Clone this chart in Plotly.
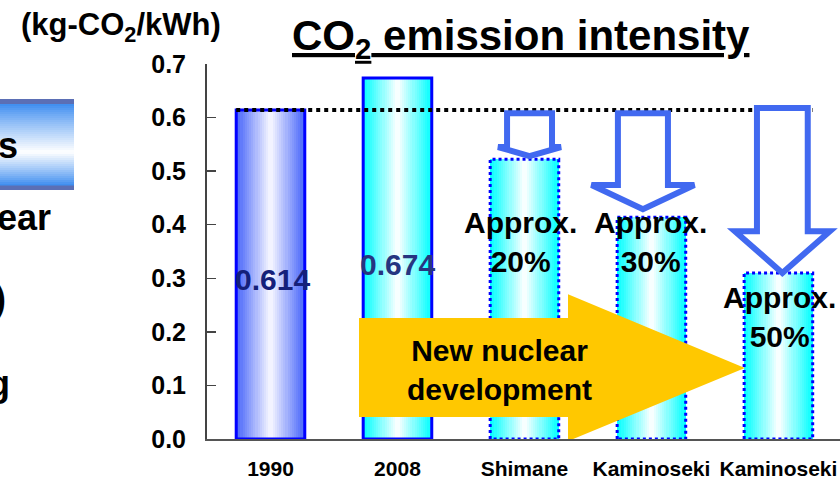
import plotly.graph_objects as go

# ---------------- data ----------------
categories = ["1990", "2008", "Shimane", "Kaminoseki", "Kaminoseki"]
intensity = [0.614, 0.674, 0.522, 0.414, 0.31]
bar_labels = ["0.614", "0.674", "", "", ""]
reduction_labels = ["", "", "Approx.<br>20%", "Approx.<br>30%", "Approx.<br>50%"]
y_ticks = [0.0, 0.1, 0.2, 0.3, 0.4, 0.5, 0.6, 0.7]

# ---------------- styling ----------------
FONT = "Liberation Sans, Arial, sans-serif"
BAR_W = 0.54
edge_rgb = [(70, 100, 250), (0, 255, 255), (0, 255, 255), (0, 255, 255), (0, 255, 255)]
centre_rgb = [(248, 248, 255), (255, 255, 255), (255, 255, 255), (255, 255, 255), (255, 255, 255)]
solid_border = [True, True, False, False, False]
N_BANDS = 16

# page body margin is removed by the post script, so figure sits at (0,0)
OFF = 0
PLOT_L, PLOT_T, PLOT_B = 207, 64, 439          # page pixel positions of plot area
PLOT_W, PLOT_H = 633, PLOT_B - PLOT_T
FIG_W, FIG_H = 840 - OFF, 479 - OFF
X_MIN, X_MAX = -0.5, 4.485


def px_x(px):
    return (px - PLOT_L) / PLOT_W


def px_y(py):
    return (PLOT_B - py) / PLOT_H


def lerp(c1, c2, t):
    return "rgb(%d,%d,%d)" % tuple(round(a + (b - a) * t) for a, b in zip(c1, c2))


fig = go.Figure()
xs = list(range(len(categories)))

# gradient bars (concentric overlay bands)
for k in range(N_BANDS):
    t = (k + 0.5) / N_BANDS
    w = BAR_W * (1 - k / N_BANDS)
    fig.add_trace(go.Bar(
        x=xs, y=intensity, width=[w] * len(xs),
        marker=dict(color=[lerp(e, c, t) for e, c in zip(edge_rgb, centre_rgb)],
                    line=dict(width=0)),
        showlegend=False, hoverinfo="skip"))

# solid outlines
fig.add_trace(go.Bar(
    x=xs, y=intensity, width=[BAR_W] * len(xs),
    marker=dict(color="rgba(0,0,0,0)",
                line=dict(color="#0000ff", width=[3 if s else 0 for s in solid_border])),
    showlegend=False, hoverinfo="skip"))

# dotted outlines for projected values
for i, (v, s) in enumerate(zip(intensity, solid_border)):
    if s:
        continue
    fig.add_trace(go.Scatter(
        x=[i - BAR_W / 2, i - BAR_W / 2, i + BAR_W / 2, i + BAR_W / 2, i - BAR_W / 2],
        y=[0, v, v, 0, 0], mode="lines",
        line=dict(color="#0000ff", width=3, dash="dot"),
        showlegend=False, hoverinfo="skip"))

# 1990 reference dotted line
fig.add_trace(go.Scatter(
    x=[-BAR_W / 2, len(xs) - 1 + BAR_W / 2], y=[intensity[0], intensity[0]],
    mode="lines", line=dict(color="black", width=4, dash="dot"),
    showlegend=False, hoverinfo="skip"))

shapes = []

# blue hollow down arrows (from 1990 level to each projected bar)
arrow_geo = {2: (2.04, 0.177, 0.248, 0.017, 0.006),
             3: (2.933, 0.197, 0.405, 0.045, 0.015),
             4: (4.031, 0.2, 0.374, 0.078, 0.0)}
for i, (cx, sw, hw, head_h, gap) in arrow_geo.items():
    top = intensity[0] - (0.006 if i < 4 else -0.004)
    tip = intensity[i] + gap
    base = tip + head_h
    path = (f"M {cx - sw},{top} L {cx + sw},{top} L {cx + sw},{base} L {cx + hw},{base} "
            f"L {cx},{tip} L {cx - hw},{base} L {cx - sw},{base} Z")
    shapes.append(dict(type="path", xref="x", yref="y", path=path,
                       fillcolor="white", line=dict(color="#4169f0", width=6)))

# yellow block arrow
ya = dict(x0=0.697, x1=2.343, xt=3.736, yb0=0.041, yb1=0.226, yh0=-0.004, yh1=0.27, yt=0.1325)
shapes.append(dict(
    type="path", xref="x", yref="y",
    path=(f"M {ya['x0']},{ya['yb0']} L {ya['x0']},{ya['yb1']} L {ya['x1']},{ya['yb1']} "
          f"L {ya['x1']},{ya['yh1']} L {ya['xt']},{ya['yt']} L {ya['x1']},{ya['yh0']} "
          f"L {ya['x1']},{ya['yb0']} Z"),
    fillcolor="#ffc800", line=dict(width=0)))

# left cropped panel box (vertical gradient)
box_x0, box_x1, box_top, box_bot = 0, 74, 99, 190
shapes.append(dict(type="rect", xref="paper", yref="paper",
                   x0=px_x(box_x0), x1=px_x(box_x1), y0=px_y(box_bot), y1=px_y(box_top),
                   fillcolor="#5b6fb5", line=dict(width=0)))
inner_top, inner_bot = box_top + 5, box_bot - 5
mid = 152
blue = (60, 140, 240)
white = (255, 255, 255)
step = 2
yy = inner_top
while yy < inner_bot:
    y2 = min(yy + step, inner_bot)
    ymid = (yy + y2) / 2
    if ymid < mid:
        t = (ymid - inner_top) / (mid - inner_top)
    else:
        t = (inner_bot - ymid) / (inner_bot - mid)
    shapes.append(dict(type="rect", xref="paper", yref="paper",
                       x0=px_x(box_x0), x1=px_x(box_x1), y0=px_y(y2 + 0.5), y1=px_y(yy),
                       fillcolor=lerp(blue, white, t ** 0.9), line=dict(width=0)))
    yy = y2

annotations = []
# value labels inside first two bars
label_pos = {0: (0.017, 0.297, "#14207a"), 1: (0.0, 0.325, "#263580")}
for i, (dx, yv, col) in label_pos.items():
    annotations.append(dict(x=i + dx, y=yv, xref="x", yref="y", text=bar_labels[i],
                            xanchor="center", yanchor="middle", showarrow=False,
                            font=dict(family=FONT, size=30, color=col, weight="bold")))

# reduction labels
red_pos = {2: (-0.03, 0.367), 3: (-0.005, 0.367), 4: (0.01, 0.2285)}
for i, (dx, yv) in red_pos.items():
    annotations.append(dict(x=i + dx, y=yv, xref="x", yref="y", text=reduction_labels[i],
                            xanchor="center", yanchor="middle", showarrow=False,
                            font=dict(family=FONT, size=30, color="black", weight="bold")))

# text on yellow arrow
annotations.append(dict(x=1.807, y=0.129, xref="x", yref="y",
                        text="New nuclear<br>development", showarrow=False,
                        xanchor="center", yanchor="middle",
                        font=dict(family=FONT, size=30, color="black", weight="bold")))

# title and unit
annotations.append(dict(x=px_x(521), y=px_y(38), xref="paper", yref="paper",
                        xanchor="center", yanchor="middle",
                        text="<u>CO<sub>2</sub> emission intensity</u>", showarrow=False,
                        font=dict(family=FONT, size=42, color="black", weight="bold")))
annotations.append(dict(x=px_x(121), y=px_y(27), xref="paper", yref="paper",
                        xanchor="center", yanchor="middle",
                        text="(kg-CO<sub>2</sub>/kWh)", showarrow=False,
                        font=dict(family=FONT, size=31, color="black", weight="bold")))

# cropped fragments of the neighbouring panel on the left
for txt, right_px, cy in [("s", 20, 145), ("ear", 53, 218), (")", 8, 298), ("g", 12, 383)]:
    annotations.append(dict(x=px_x(right_px), y=px_y(cy), xref="paper", yref="paper",
                            xanchor="right", yanchor="middle", text=txt, showarrow=False,
                            font=dict(family=FONT, size=36, color="black", weight="bold")))

fig.update_layout(
    width=FIG_W, height=FIG_H,
    margin=dict(l=PLOT_L - OFF, r=FIG_W - (PLOT_L - OFF) - PLOT_W,
                t=PLOT_T - OFF, b=FIG_H - (PLOT_B - OFF), pad=0),
    paper_bgcolor="white", plot_bgcolor="white",
    barmode="overlay", bargap=0, hovermode=False,
    shapes=shapes, annotations=annotations,
    xaxis=dict(range=[X_MIN, X_MAX], tickvals=xs, ticktext=categories,
               showline=True, linecolor="#555555", linewidth=2, ticks="",
               showgrid=False, zeroline=False, ticklabelstandoff=10,
               tickfont=dict(family=FONT, size=21, color="black", weight="bold")),
    yaxis=dict(range=[0, 0.7], tickvals=y_ticks, ticktext=[f"{v:.1f}" for v in y_ticks],
               showline=True, linecolor="#444444", linewidth=2,
               ticks="inside", ticklen=9, tickwidth=1.5, tickcolor="#444444",
               showgrid=False, zeroline=False, ticklabelstandoff=14,
               tickfont=dict(family=FONT, size=25, color="black", weight="bold")),
)

fig.write_html("out.html",
               config={"displayModeBar": False, "staticPlot": True},
               post_script="document.body.style.margin='0';document.body.style.overflow='hidden';")
